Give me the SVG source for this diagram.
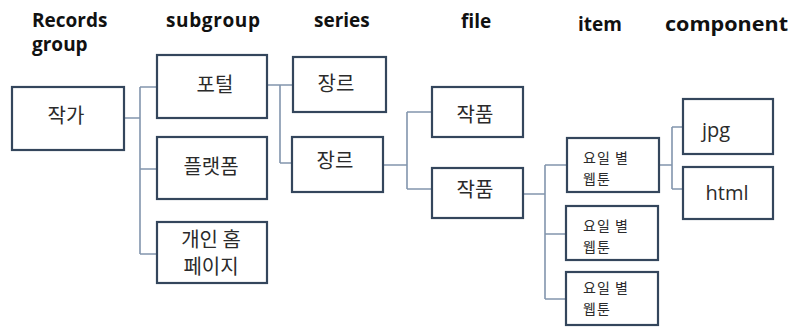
<svg xmlns="http://www.w3.org/2000/svg" width="792" height="327" viewBox="0 0 792 327">
<style>
.hdr{font-family:"Open Sans","Noto Sans",sans-serif;font-weight:700;font-size:19px;fill:#111}
.box{fill:#fff;stroke:#34465c;stroke-width:2.2}
.lbl{font-family:"Noto Sans CJK KR","Noto Sans",sans-serif;font-size:20px;fill:#2b2b2b;text-anchor:middle}
.sm{font-family:"Noto Sans CJK KR","Noto Sans",sans-serif;font-size:14px;fill:#2b2b2b;letter-spacing:1px}
.en{font-family:"Open Sans","Noto Sans",sans-serif;font-size:20px;fill:#2b2b2b;text-anchor:middle}
.con{fill:none;stroke:#8295ad;stroke-width:1.6}
</style>
<rect width="792" height="327" fill="#fff"/>
<g id="headers">
<text class="hdr" x="32" y="27">Records</text>
<text class="hdr" x="32" y="51">group</text>
<text class="hdr" x="166" y="27" textLength="94" lengthAdjust="spacing">subgroup</text>
<text class="hdr" x="314" y="27">series</text>
<text class="hdr" x="461" y="28">file</text>
<text class="hdr" x="578" y="31">item</text>
<text class="hdr" x="665" y="31" textLength="123" lengthAdjust="spacingAndGlyphs">component</text>
</g>
<g id="connectors">
<path class="con" d="M124,118 H140 M140,87 V254 M140,87 H157 M140,169 H157 M140,254 H157"/>
<path class="con" d="M267,85 H280 M280,85 V163 M280,85 H293 M280,163 H292"/>
<path class="con" d="M383,165 H407 M407,112 V189 M407,112 H432 M407,189 H432"/>
<path class="con" d="M523,194 H545 M545,165 V299 M545,165 H567 M545,234 H566 M545,299 H566"/>
<path class="con" d="M659,165 H672 M672,127 V189 M672,127 H683 M672,189 H683"/>
</g>
<g id="n-writer"><rect class="box" x="12" y="87" width="112" height="63"/><text class="lbl" x="66" y="123">작가</text></g>
<g id="n-portal"><rect class="box" x="157" y="55" width="110" height="63"/><text class="lbl" x="215" y="92">포털</text></g>
<g id="n-platform"><rect class="box" x="157" y="137" width="110" height="62"/><text class="lbl" x="211" y="174">플랫폼</text></g>
<g id="n-homepage"><rect class="box" x="157" y="222" width="110" height="61"/><text class="lbl" x="211" y="247">개인 홈</text><text class="lbl" x="211" y="274">페이지</text></g>
<g id="n-genre1"><rect class="box" x="293" y="57" width="93" height="55"/><text class="lbl" x="336" y="91">장르</text></g>
<g id="n-genre2"><rect class="box" x="292" y="137" width="91" height="55"/><text class="lbl" x="335" y="168">장르</text></g>
<g id="n-work1"><rect class="box" x="432" y="87" width="91" height="50"/><text class="lbl" x="475" y="122">작품</text></g>
<g id="n-work2"><rect class="box" x="432" y="168" width="91" height="50"/><text class="lbl" x="475" y="197">작품</text></g>
<g id="n-day1"><rect class="box" x="567" y="138" width="92" height="54"/><text class="sm" x="583" y="163">요일 별</text><text class="sm" x="583" y="184">웹툰</text></g>
<g id="n-day2"><rect class="box" x="566" y="206" width="92" height="54"/><text class="sm" x="583" y="231">요일 별</text><text class="sm" x="583" y="252">웹툰</text></g>
<g id="n-day3"><rect class="box" x="566" y="272" width="92" height="53"/><text class="sm" x="583" y="293">요일 별</text><text class="sm" x="583" y="314">웹툰</text></g>
<g id="n-jpg"><rect class="box" x="683" y="99" width="90" height="55"/><text class="en" x="716" y="137">jpg</text></g>
<g id="n-html"><rect class="box" x="683" y="167" width="90" height="52"/><text class="en" x="727" y="200">html</text></g>
</svg>
